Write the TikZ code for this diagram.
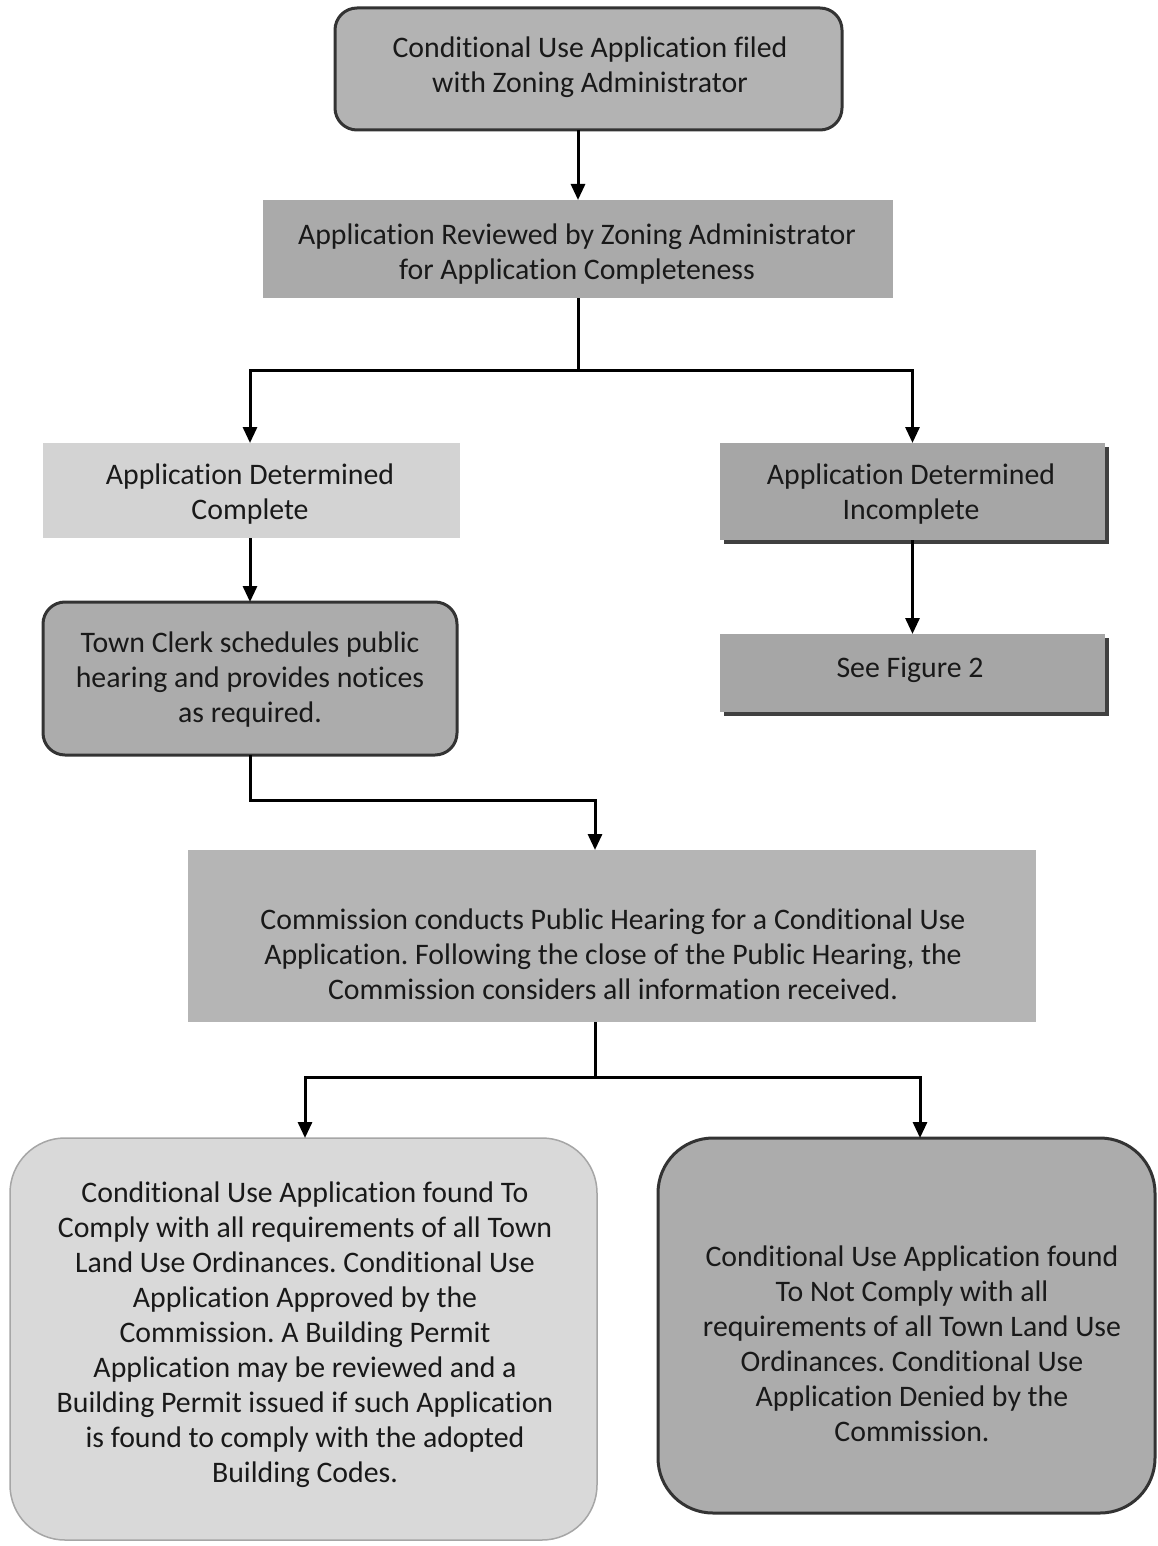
\documentclass[tikz,border=0pt]{standalone}
\usepackage{fontspec}
\setmainfont{Carlito}[Ligatures={NoCommon}]
\usetikzlibrary{arrows.meta,shadows}
\definecolor{gA}{HTML}{B3B3B3}
\definecolor{gB}{HTML}{AAAAAA}
\definecolor{gC}{HTML}{D3D3D3}
\definecolor{gD}{HTML}{ACACAC}
\definecolor{gE}{HTML}{A6A6A6}
\definecolor{gF}{HTML}{B5B5B5}
\definecolor{gG}{HTML}{D9D9D9}
\definecolor{edge}{HTML}{333333}
\begin{document}
\frenchspacing
\begin{tikzpicture}[x=1pt,y=-1pt,
  txt/.style={align=center, font=\fontsize{29.8}{35}\selectfont, inner sep=0pt, text=black!90},
  shp/.style={inner sep=0pt, outer sep=0pt},
  roundbox/.style={shp, rounded corners=22pt, draw=edge, line width=3pt},
  biground/.style={shp, rounded corners=55pt},
  plainbox/.style={shp},
  shadowbox/.style={shp, drop shadow={shadow xshift=4pt, shadow yshift=-4pt, fill=black!75, opacity=1}},
  flow/.style={line width=3pt, line join=miter, -{Triangle[width=14pt,length=16pt]}},
  link/.style={line width=3pt, line join=miter}]
\useasboundingbox (0,0) rectangle (1157,1546);

% shapes
\node[roundbox, fill=gA, minimum width=507pt, minimum height=122pt] (b1) at (588.5,69) {};
\node[plainbox, fill=gB, minimum width=630pt, minimum height=98pt] (b2) at (578,249) {};
\node[plainbox, fill=gC, minimum width=417pt, minimum height=95pt] (b3) at (251.5,490.5) {};
\node[roundbox, fill=gD, minimum width=414pt, minimum height=153pt] (b4) at (250,678.5) {};
\node[shadowbox, fill=gE, minimum width=385pt, minimum height=97pt] (b5) at (912.5,491.5) {};
\node[shadowbox, fill=gE, minimum width=385pt, minimum height=78pt] (b6) at (912.5,673) {};
\node[plainbox, fill=gF, minimum width=848pt, minimum height=172pt] (b7) at (612,936) {};
\node[biground, fill=gG, draw=black!35, line width=1.5pt, minimum width=587pt, minimum height=402pt] (b8) at (303.5,1339) {};
\node[biground, fill=gD, draw=edge, line width=3pt, minimum width=497pt, minimum height=375pt] (b9) at (906.5,1325.5) {};

% texts
\node[txt] (t1) at (590,67) {Conditional Use Application filed\\with Zoning Administrator};
\node[txt] (t2) at (577,254) {Application Reviewed by Zoning Administrator\\for Application Completeness};
\node[txt] (t3) at (250,494) {Application Determined\\Complete};
\node[txt] (t4) at (250,680) {Town Clerk schedules public\\hearing and provides notices\\as required.};
\node[txt] (t5) at (911,494) {Application Determined\\Incomplete};
\node[txt] (t6) at (910,670) {See Figure 2};
\node[txt] (t7) at (613,954) {Commission conducts Public Hearing for a Conditional Use\\Application. Following the close of the Public Hearing, the\\Commission considers all information received.};
\node[txt] (t8) at (305,1335) {Conditional Use Application found To\\Comply with all requirements of all Town\\Land Use Ordinances. Conditional Use\\Application Approved by the\\Commission. A Building Permit\\Application may be reviewed and a\\Building Permit issued if such Application\\is found to comply with the adopted\\Building Codes.};
\node[txt] (t9) at (912,1344) {Conditional Use Application found\\To Not Comply with all\\requirements of all Town Land Use\\Ordinances. Conditional Use\\Application Denied by the\\Commission.};

% connectors
\coordinate (j1) at (578,370);
\coordinate (j2) at (595,800);
\coordinate (j3) at (595,1077);
\coordinate (j4) at (920,1077);
\coordinate (j5) at (305,1077);

\draw[flow] (b2.north |- b1.south) -- (b2.north);
\draw[link] (b2.south) -- (j1);
\draw[flow] (j1) -| (b4.north |- b3.north);
\draw[flow] (j1) -| (b5.north);
\draw[flow] (b4.north |- b3.south) -- (b4.north);
\draw[flow] (b5.south) -- (b6.north);
\draw[flow] (b4.south) |- (j2) -- (j2 |- b7.north);
\draw[link] (j3 |- b7.south) -- (j3);
\draw[flow] (j3) -- (j5) -- (j5 |- b8.north);
\draw[flow] (j3) -- (j4) -- (j4 |- b9.north);
\end{tikzpicture}
\end{document}
